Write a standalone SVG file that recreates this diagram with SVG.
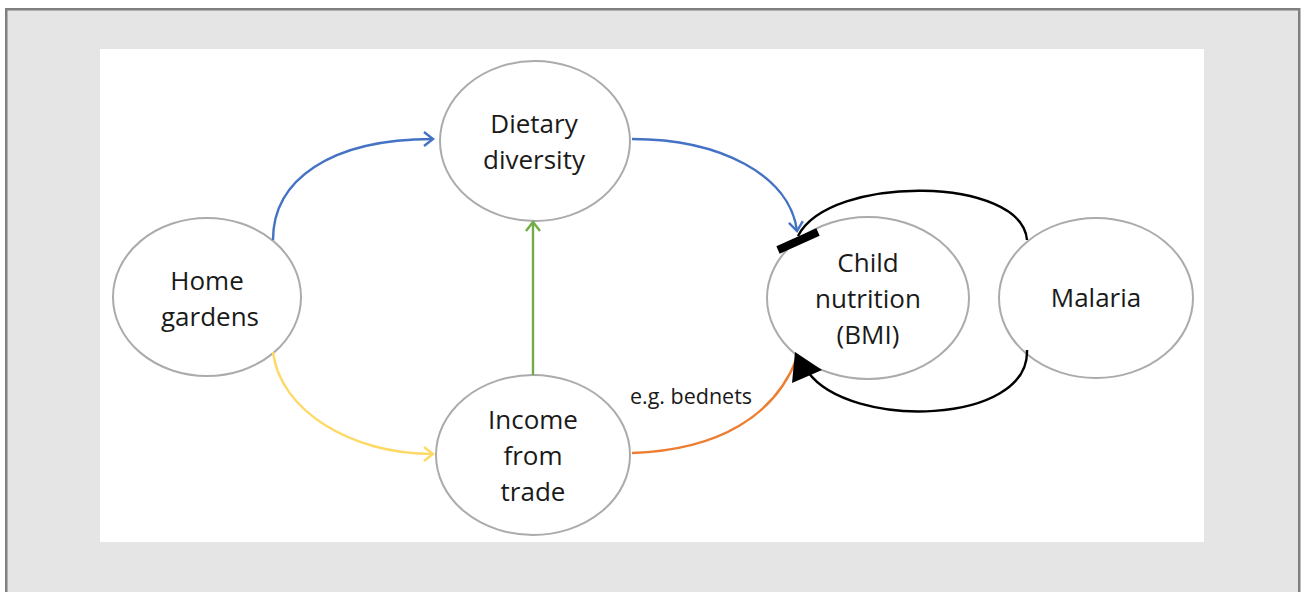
<svg xmlns="http://www.w3.org/2000/svg" width="1301" height="592" viewBox="0 0 1301 592">
<style>
.node{fill:#fff;stroke:#ababab;stroke-width:2}
.lbl{font-family:"Open Sans","Liberation Sans",sans-serif;font-size:26px;fill:#1a1a1a;text-anchor:middle}
.small{font-family:"Open Sans","Liberation Sans",sans-serif;font-size:21.5px;fill:#1a1a1a;text-anchor:middle}
.c{fill:none;stroke-width:2.4}
</style>
<defs>
<marker id="openB" markerWidth="16" markerHeight="16" refX="12" refY="8" orient="auto" markerUnits="userSpaceOnUse"><path d="M3,1 L12,8 L3,15" fill="none" stroke="#4472C4" stroke-width="2.4"/></marker>
<marker id="openY" markerWidth="16" markerHeight="16" refX="12" refY="8" orient="auto" markerUnits="userSpaceOnUse"><path d="M3,1 L12,8 L3,15" fill="none" stroke="#FFD966" stroke-width="2.4"/></marker>
<marker id="openG" markerWidth="16" markerHeight="16" refX="12" refY="8" orient="auto" markerUnits="userSpaceOnUse"><path d="M3,1 L12,8 L3,15" fill="none" stroke="#70AD47" stroke-width="2.4"/></marker>
</defs>
<rect x="0" y="0" width="1301" height="592" fill="#fff"/>
<rect x="6.25" y="9.25" width="1293" height="600" fill="#e5e5e5" stroke="#808080" stroke-width="2.5"/>
<rect x="100" y="49" width="1104" height="493" fill="#fff"/>
<g id="home"><ellipse class="node" cx="207" cy="297" rx="94" ry="79"/><text class="lbl" x="207" y="290">Home</text><text class="lbl" x="210" y="326">gardens</text></g>
<g id="dietary"><ellipse class="node" cx="535" cy="141" rx="95" ry="80"/><text class="lbl" x="534" y="133">Dietary</text><text class="lbl" x="534" y="169">diversity</text></g>
<g id="income"><ellipse class="node" cx="533" cy="455" rx="97" ry="80"/><text class="lbl" x="533" y="429">Income</text><text class="lbl" x="533" y="465">from</text><text class="lbl" x="533" y="501">trade</text></g>
<g id="child"><ellipse class="node" cx="868" cy="298" rx="101" ry="81"/><text class="lbl" x="868" y="272">Child</text><text class="lbl" x="868" y="308">nutrition</text><text class="lbl" x="868" y="344">(BMI)</text></g>
<g id="malaria"><ellipse class="node" cx="1096" cy="298" rx="97" ry="80"/><text class="lbl" x="1096" y="307">Malaria</text></g>
<g id="connectors">
<path class="c" d="M273,240 C273,180 330,139 433,139" stroke="#4472C4" marker-end="url(#openB)"/>
<path class="c" d="M632,139 C720,139 790,175 797,231" stroke="#4472C4" marker-end="url(#openB)"/>
<path class="c" d="M273,352 C280,410 350,454 433,454" stroke="#FFD966" marker-end="url(#openY)"/>
<path class="c" d="M533,375 L533,222" stroke="#70AD47" marker-end="url(#openG)"/>
<path class="c" d="M632,453 C720,450 775,415 797,358" stroke="#ED7D31"/>
<path class="c" d="M1027,240 C1022,176 830,174 798,236" stroke="#000"/>
<path d="M778,250 L818,232" stroke="#000" stroke-width="8"/>
<path class="c" d="M1027,350 C1030,425 850,430 808,372" stroke="#000"/>
<path d="M795,352 L822,370 L792,383 Z" fill="#000"/>
</g>
<g id="label"><text class="small" x="691" y="404">e.g. bednets</text></g>
</svg>
